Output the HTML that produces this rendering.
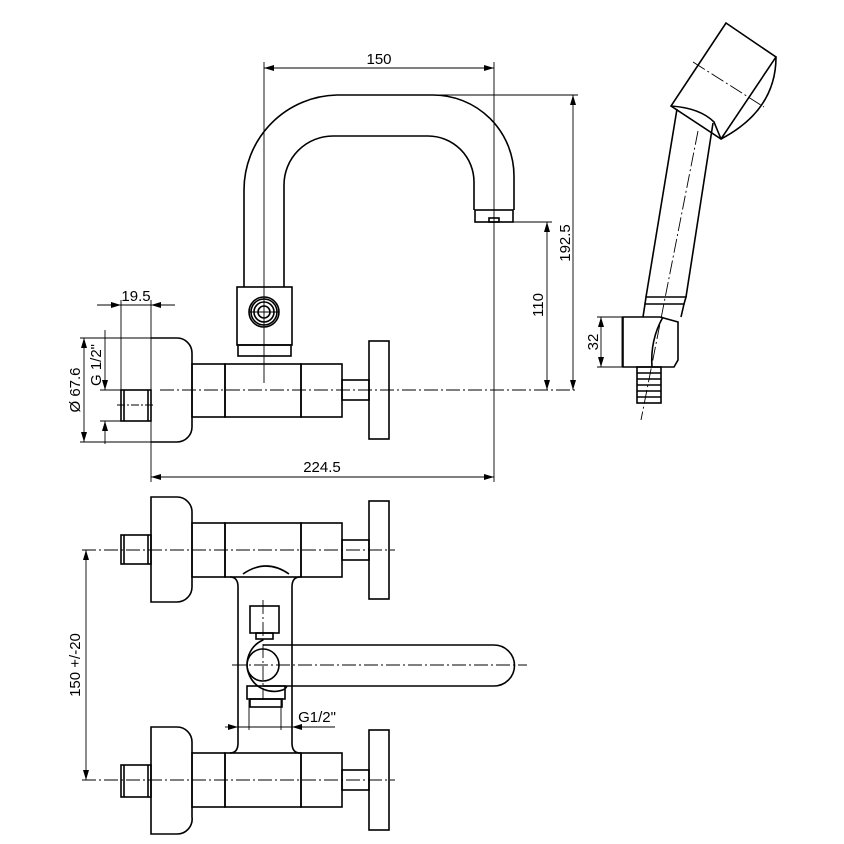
<!DOCTYPE html>
<html><head><meta charset="utf-8"><style>html,body{margin:0;padding:0;background:#fff}svg{display:block}text{font-family:"Liberation Sans",sans-serif;font-size:15px;fill:#000}</style></head><body>
<svg width="844" height="844" viewBox="0 0 844 844" xmlns="http://www.w3.org/2000/svg">
<defs>
<marker id="a" viewBox="0 0 10 6" refX="10" refY="3" markerWidth="10" markerHeight="6" orient="auto-start-reverse" markerUnits="userSpaceOnUse"><path d="M0,0L10,3L0,6z" fill="#000"/></marker>
</defs>
<g fill="none" stroke="#000" stroke-width="1.6">
<path d="M244,287 V190 A95,95 0 0 1 337,95 H433 A81,81 0 0 1 514,176 V210"/>
<path d="M284,287 V185 A49,49 0 0 1 333,136 H428 A46,46 0 0 1 474,182 V210"/>
<rect x="475" y="210" width="38" height="12"/>
<rect x="489" y="218" width="10" height="4"/>
<rect x="237" y="287" width="55" height="58"/>
<rect x="238" y="345" width="53" height="11"/>
<circle cx="264" cy="312" r="15"/><circle cx="264" cy="312" r="13"/><circle cx="264" cy="312" r="10"/><circle cx="264" cy="312" r="6"/>
<path d="M151,338 H177 A15,15 0 0 1 192,353 V427 A15,15 0 0 1 177,442 H151"/>
<rect x="121" y="390" width="30" height="31"/>
<line x1="124" y1="390" x2="124" y2="421"/><line x1="148" y1="390" x2="148" y2="421"/>
<rect x="192" y="364" width="33" height="53"/>
<rect x="225" y="364" width="76" height="53"/>
<rect x="301" y="364" width="41" height="53"/>
<rect x="342" y="380" width="27" height="20"/>
<rect x="369" y="341" width="20" height="98"/>
<path d="M151,497 H177 A15,15 0 0 1 192,512 V587 A15,15 0 0 1 177,602 H151 Z"/>
<rect x="121" y="535" width="30" height="29"/>
<line x1="124" y1="535" x2="124" y2="564"/><line x1="148" y1="535" x2="148" y2="564"/>
<rect x="192" y="523" width="33" height="54"/>
<rect x="225" y="523" width="76" height="54"/>
<rect x="301" y="523" width="41" height="54"/>
<rect x="342" y="540" width="27" height="20"/>
<rect x="369" y="501" width="20" height="98"/>
<path d="M151,727 H177 A15,15 0 0 1 192,742 V817 A15,15 0 0 1 177,834 H151 Z"/>
<rect x="121" y="765" width="30" height="32"/>
<line x1="124" y1="765" x2="124" y2="797"/><line x1="148" y1="765" x2="148" y2="797"/>
<rect x="192" y="753" width="33" height="54"/>
<rect x="225" y="753" width="76" height="54"/>
<rect x="301" y="753" width="41" height="54"/>
<rect x="342" y="770" width="27" height="20"/>
<rect x="369" y="730" width="20" height="100"/>
<path d="M230,577 Q238,577 238,587 V743 Q238,753 230,753"/>
<path d="M300,577 Q292,577 292,587 V743 Q292,753 300,753"/>
<path d="M243,574 Q266,558 289,574"/>
<rect x="250" y="606" width="29" height="27"/>
<rect x="256" y="633" width="17" height="6"/>
<path d="M263,640 A25,25 0 1 0 285,689 L287,686"/>
<circle cx="263" cy="665" r="16"/>
<path d="M263,645 H494 A20.5,20.5 0 0 1 494,686 H263"/>
<rect x="247" y="686" width="38" height="13"/>
<rect x="250" y="699" width="32" height="8"/>
<path d="M726,23 L776,57 L721,139 L671,106 Z"/>
<path d="M776,57 Q776,110 721,139"/>
<path d="M671,106 Q700,108 714,122 L721,139"/>
<path d="M677,109 L646,297"/><path d="M713,123 L686,297"/>
<path d="M646,297 H686 L684,304 H645 Z"/>
<path d="M645,304 L643,317 M684,304 L681,317"/>
<path d="M623,317 H660 L678,322 V360 L674,367 H623 Z"/>
<path d="M663,317 Q650,340 652,367"/>
<rect x="637" y="367" width="24" height="36"/>
<path d="M637,373 H661 M637,379 H661 M637,385 H661 M637,391 H661 M637,397 H661"/>
</g>
<g fill="none" stroke="#000" stroke-width="0.9">
<line x1="264" y1="62" x2="264" y2="383"/>
<line x1="494" y1="62" x2="494" y2="482"/>
<line x1="151" y1="300" x2="151" y2="482"/>
<line x1="121" y1="300" x2="121" y2="421"/>
<line x1="433" y1="95" x2="578" y2="95"/>
<line x1="513" y1="222" x2="552" y2="222"/>
<line x1="160" y1="390" x2="578" y2="390" stroke-dasharray="14,3,2,3"/>
<line x1="80" y1="338" x2="151" y2="338"/><line x1="80" y1="442" x2="151" y2="442"/>
<line x1="100" y1="390" x2="121" y2="390"/><line x1="100" y1="421" x2="121" y2="421"/>
<line x1="117" y1="405" x2="155" y2="405" stroke-dasharray="8,2,2,2"/>
<line x1="82" y1="550" x2="395" y2="550" stroke-dasharray="14,3,2,3"/>
<line x1="82" y1="780" x2="395" y2="780" stroke-dasharray="14,3,2,3"/>
<line x1="232" y1="665" x2="527" y2="665" stroke-dasharray="14,3,2,3"/>
<line x1="263" y1="600" x2="263" y2="700" stroke-dasharray="14,3,2,3"/>
<line x1="249" y1="312" x2="279" y2="312"/>
<line x1="698" y1="131" x2="641" y2="420" stroke-dasharray="14,3,2,3"/>
<line x1="693" y1="62" x2="764" y2="107" stroke-dasharray="14,3,2,3"/>
<line x1="597" y1="317" x2="623" y2="317"/><line x1="597" y1="367" x2="623" y2="367"/>
<line x1="622" y1="317" x2="622" y2="367"/>
<line x1="238" y1="713" x2="238" y2="732"/><line x1="292" y1="713" x2="292" y2="732"/>
<line x1="249" y1="700" x2="249" y2="730"/><line x1="281" y1="700" x2="281" y2="730"/>
<line x1="264" y1="68" x2="494" y2="68" marker-start="url(#a)" marker-end="url(#a)"/>
<line x1="573" y1="95" x2="573" y2="390" marker-start="url(#a)" marker-end="url(#a)"/>
<line x1="547" y1="222" x2="547" y2="390" marker-start="url(#a)" marker-end="url(#a)"/>
<line x1="151" y1="477" x2="494" y2="477" marker-start="url(#a)" marker-end="url(#a)"/>
<line x1="97" y1="305" x2="121" y2="305" marker-end="url(#a)"/>
<line x1="175" y1="305" x2="151" y2="305" marker-end="url(#a)"/>
<line x1="121" y1="305" x2="151" y2="305"/>
<line x1="84" y1="338" x2="84" y2="442" marker-start="url(#a)" marker-end="url(#a)"/>
<line x1="105" y1="330" x2="105" y2="390" marker-end="url(#a)"/>
<line x1="105" y1="444" x2="105" y2="421" marker-end="url(#a)"/>
<line x1="86" y1="550" x2="86" y2="780" marker-start="url(#a)" marker-end="url(#a)"/>
<line x1="601" y1="317" x2="601" y2="367" marker-start="url(#a)" marker-end="url(#a)"/>
<line x1="225" y1="727" x2="238" y2="727" marker-end="url(#a)"/>
<line x1="335" y1="727" x2="292" y2="727" marker-end="url(#a)"/>
<line x1="238" y1="727" x2="292" y2="727"/>
</g>
<text x="379" y="64" text-anchor="middle">150</text>
<text x="136" y="301" text-anchor="middle">19.5</text>
<text x="322" y="472" text-anchor="middle">224.5</text>
<text x="317" y="722" text-anchor="middle">G1/2"</text>
<text transform="translate(570,243) rotate(-90)" text-anchor="middle">192.5</text>
<text transform="translate(543,305) rotate(-90)" text-anchor="middle">110</text>
<text transform="translate(598,342) rotate(-90)" text-anchor="middle">32</text>
<text transform="translate(80,390) rotate(-90)" text-anchor="middle">Ø 67.6</text>
<text transform="translate(101,365) rotate(-90)" text-anchor="middle">G 1/2"</text>
<text transform="translate(80,665) rotate(-90)" text-anchor="middle">150  +/-20</text>
</svg>
</body></html>
